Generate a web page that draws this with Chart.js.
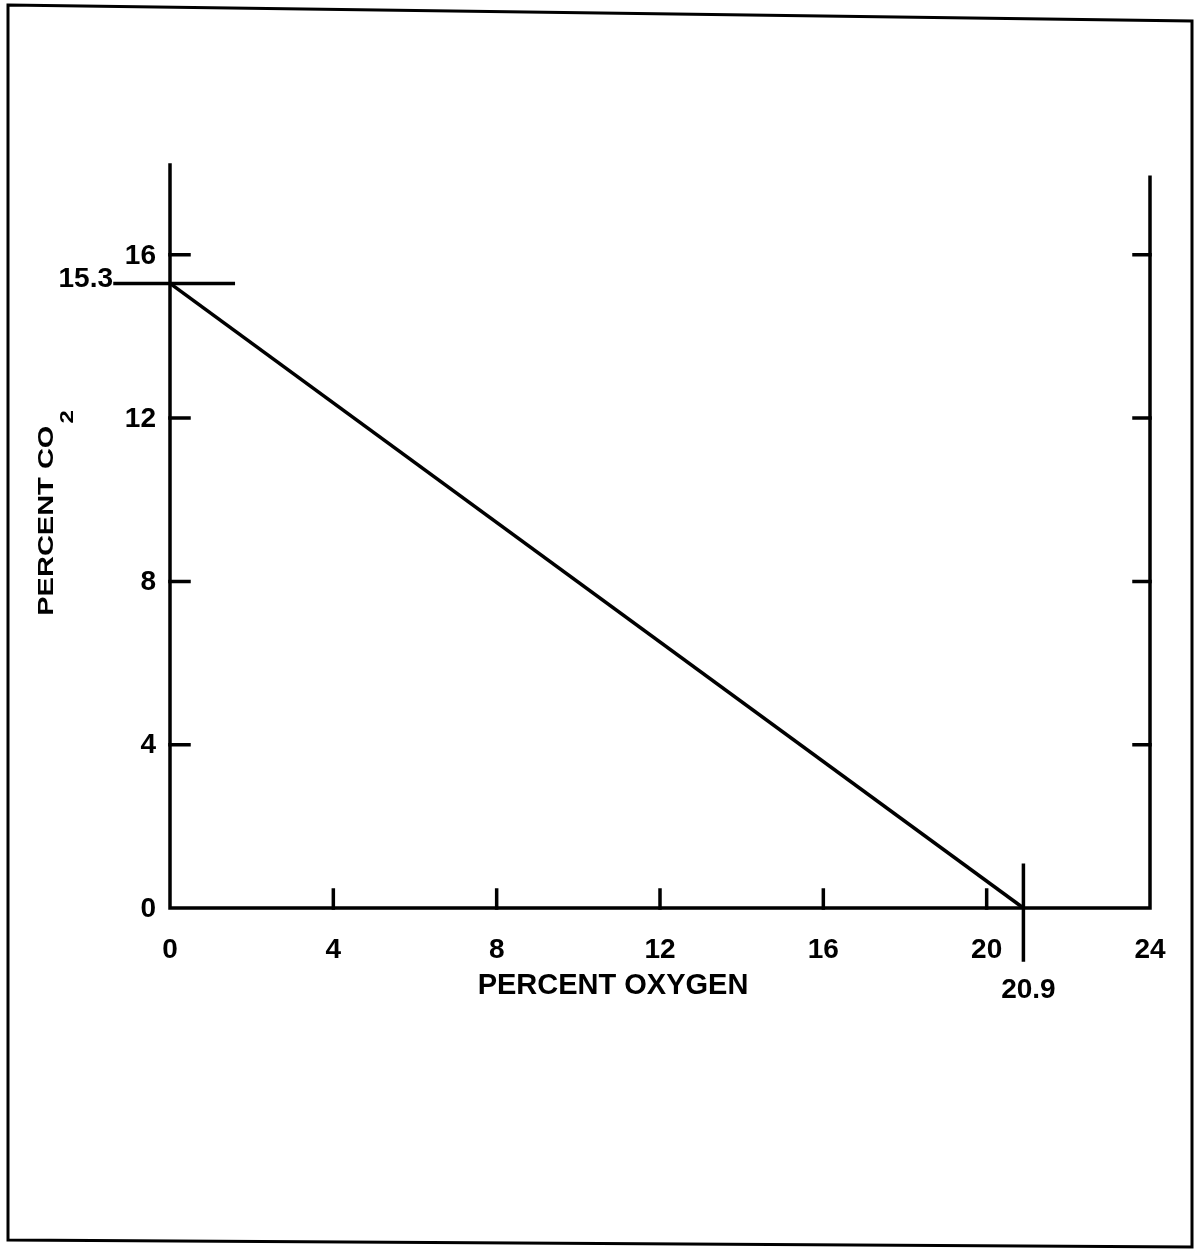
<!DOCTYPE html>
<html>
<head>
<meta charset="utf-8">
<script src="https://cdn.jsdelivr.net/npm/chart.js@4/dist/chart.umd.min.js"></script>
<style>
	body { margin: 0; background: #fff; }
	.wrap { width: 1194px; height: 1252px; position: relative; }
</style>
</head>
<body>
<div class="wrap"><canvas class="o2-chart"></canvas></div>
<script>
// values
let oxygen = [0, 20.9]
let co2 = [15.3, 0]
let xLabels = [0, 4, 8, 12, 16, 20, 24]
let yLabels = [0, 4, 8, 12, 16]
let xMarks = [4, 8, 12, 16, 20]
let yMarks = [4, 8, 12, 16]
let co2Max = 15.3
let airOxygen = 20.9

let font = '"Liberation Sans", Arial, sans-serif'

let points = []
for (let i = 0; i < oxygen.length; i++) {
	points.push({ x: oxygen[i], y: co2[i] })
}

let axesPlugin = {
	id: 'axesPlugin',
	afterDraw: function (chart) {
		let ctx = chart.ctx
		let xs = chart.scales.x
		let ys = chart.scales.y
		let x0 = xs.getPixelForValue(0)
		let y0 = ys.getPixelForValue(0)
		let xEnd = xs.getPixelForValue(24)
		let yTop = ys.getPixelForValue(ys.max)

		ctx.save()
		ctx.strokeStyle = '#000'
		ctx.fillStyle = '#000'
		ctx.lineCap = 'square'

		// page frame of the scan
		ctx.lineWidth = 3
		ctx.beginPath()
		ctx.moveTo(8, 5)
		ctx.lineTo(1192, 21)
		ctx.lineTo(1192, 1247)
		ctx.lineTo(8, 1240)
		ctx.closePath()
		ctx.stroke()

		// axes
		ctx.lineWidth = 3.5
		ctx.beginPath()
		ctx.moveTo(x0, yTop)
		ctx.lineTo(x0, y0)
		ctx.lineTo(xEnd, y0)
		ctx.lineTo(xEnd, ys.getPixelForValue(17.9))
		ctx.stroke()

		// inward ticks
		ctx.beginPath()
		for (let i = 0; i < xMarks.length; i++) {
			let px = xs.getPixelForValue(xMarks[i])
			ctx.moveTo(px, y0)
			ctx.lineTo(px, y0 - 18)
		}
		for (let i = 0; i < yMarks.length; i++) {
			let py = ys.getPixelForValue(yMarks[i])
			ctx.moveTo(x0, py)
			ctx.lineTo(x0 + 19, py)
			ctx.moveTo(xEnd, py)
			ctx.lineTo(xEnd - 16, py)
		}
		// 15.3 and 20.9 markers
		let py153 = ys.getPixelForValue(co2Max)
		ctx.moveTo(x0 - 55, py153)
		ctx.lineTo(xs.getPixelForValue(1.55), py153)
		let px209 = xs.getPixelForValue(airOxygen)
		ctx.moveTo(px209, ys.getPixelForValue(1.05))
		ctx.lineTo(px209, y0 + 52)
		ctx.stroke()

		// tick labels
		ctx.font = 'bold 28px ' + font
		ctx.textAlign = 'center'
		ctx.textBaseline = 'middle'
		for (let i = 0; i < xLabels.length; i++) {
			ctx.fillText(String(xLabels[i]), xs.getPixelForValue(xLabels[i]), y0 + 42)
		}
		ctx.fillText(String(airOxygen), px209 + 5, y0 + 82)

		ctx.textAlign = 'right'
		for (let i = 0; i < yLabels.length; i++) {
			ctx.fillText(String(yLabels[i]), x0 - 14, ys.getPixelForValue(yLabels[i]) + 1)
		}
		ctx.fillText(String(co2Max), x0 - 57, py153 - 4)

		// x title
		ctx.font = 'bold 29px ' + font
		ctx.textAlign = 'center'
		ctx.fillText('PERCENT OXYGEN', 613, y0 + 78)

		// y title, narrow lettering like the scan
		ctx.translate(53, 513)
		ctx.rotate(-Math.PI / 2)
		ctx.scale(1, 0.78)
		ctx.textAlign = 'left'
		ctx.textBaseline = 'alphabetic'
		ctx.font = 'bold 29px ' + font
		let main = 'PERCENT CO'
		let wMain = ctx.measureText(main).width
		ctx.font = 'bold 24px ' + font
		let wSub = ctx.measureText('2').width
		let start = -(wMain + wSub + 2) / 2
		ctx.font = 'bold 29px ' + font
		ctx.fillText(main, start, 0)
		ctx.font = 'bold 24px ' + font
		ctx.fillText('2', start + wMain + 2, 26)
		ctx.restore()
	},
}

let canvas = document.querySelector('.o2-chart')

let chart = new Chart(canvas, {
	type: 'scatter',
	data: {
		datasets: [
			{
				data: points,
				showLine: true,
				borderColor: '#000',
				borderWidth: 3.5,
				pointRadius: 0,
				clip: false,
			},
		],
	},
	options: {
		responsive: true,
		maintainAspectRatio: false,
		animation: false,
		layout: {
			padding: { left: 170, right: 44, top: 165, bottom: 344 },
		},
		scales: {
			x: { type: 'linear', min: 0, max: 24, display: false },
			y: { type: 'linear', min: 0, max: 18.2, display: false },
		},
		plugins: {
			legend: { display: false },
			tooltip: { enabled: false },
		},
	},
	plugins: [axesPlugin],
})
</script>
</body>
</html>
